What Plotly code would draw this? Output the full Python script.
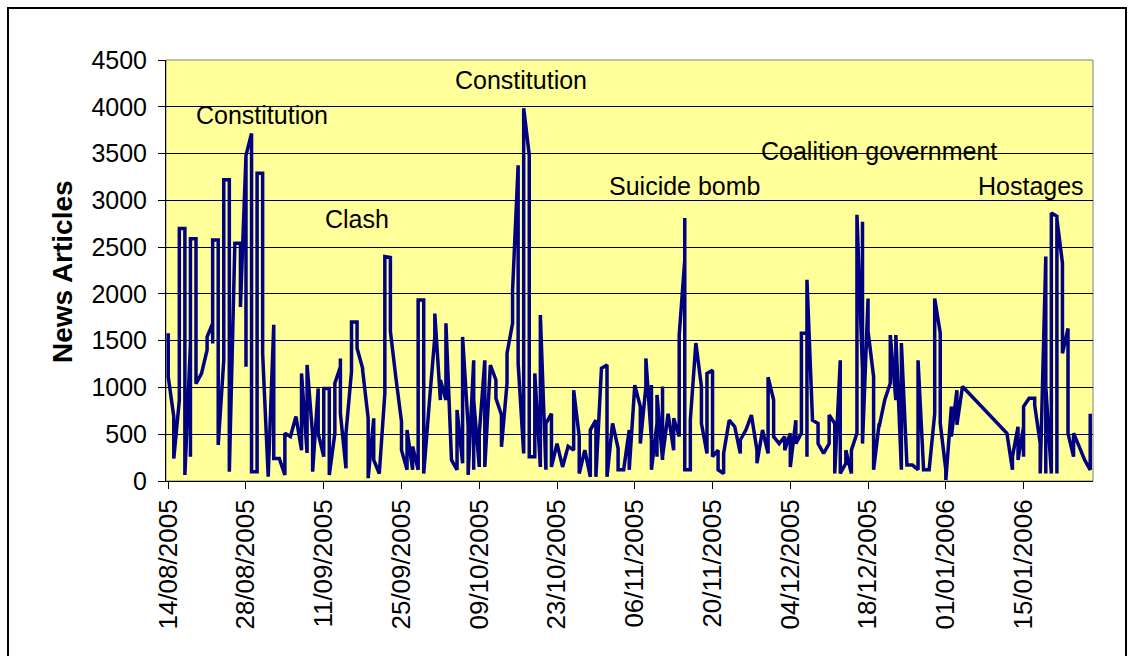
import datetime as dt
import plotly.graph_objects as go

# ---------------- data ----------------
start_date = "2005-08-14"
# news article counts per day (several readings per date); [] = no data that day
counts = [
    [1580, 1550, 1115], [690, 240], [865, 2700], [2700, 1790, 940, 65],
    [1470, 260, 2590], [2590, 2040, 1540, 1040], [1150], [1400, 1540],
    [1685, 1470, 2575], [2575, 385], [1290, 2180, 3220], [3220, 1330, 2170, 100],
    [2540], [2540, 2220, 1860], [3480, 1220, 3480], [3715, 100],
    [100, 3290], [3290, 2630, 1365], [45], [1670, 240],
    [240], [65, 510], [475], [690],
    [330, 1150], [300, 1240], [490, 100], [990, 510],
    [260, 990], [990, 65], [510, 1045], [1220, 1310, 723],
    [135, 510], [1170, 1700], [1700, 1420], [1205, 1185],
    [670, 30], [670, 225], [80], [937, 2400],
    [2390, 1845, 1600], [1100], [635, 545, 330], [120, 545],
    [120, 370], [120, 1935], [1935, 935, 80], [830],
    [1540, 1790], [865, 1080], [865, 1685], [225],
    [120, 760], [190, 1540], [580, 65], [1290, 120, 865],
    [150, 500], [1290, 150], [1240], [1080, 885],
    [705, 365], [1045, 1365], [1685, 2040], [3375, 2700, 2080, 1260],
    [295, 3985], [3485, 2100, 260], [260, 1150], [150, 1775],
    [120, 615], [720, 150], [400], [150],
    [370], [330, 970], [475, 80], [330],
    [45, 545], [650, 45], [1205], [1240, 45],
    [615], [350, 120], [120], [545, 510, 120],
    [1025], [795, 400], [1010, 1310], [440, 1025, 955, 120],
    [615, 260, 920], [225, 1010, 260], [720], [330, 670],
    [475, 720, 1130, 1560], [2360, 2810, 120], [120, 650], [1475],
    [1010, 615], [295, 1150], [1185, 260], [330, 120],
    [80, 295], [650], [580], [295, 440],
    [545], [705], [330, 190], [545],
    [295, 1110], [865, 475], [400], [475, 330],
    [510, 150], [650, 400], [510, 1580], [1580, 260, 2150],
    [650], [615, 400], [295], [400, 705],
    [615, 80], [1290, 80], [190, 330], [80, 330],
    [510, 2845], [1185, 2770, 400], [1950, 1600], [1115, 615, 120],
    [615, 580], [865], [1045, 1560], [865, 1560],
    [120, 1475], [170], [170], [120, 795, 1290],
    [120], [120], [720, 1950], [1580, 1080, 615],
    [120, 10], [795, 475], [970, 600], [1010],
    [], [], [], [760],
    [], [], [], [510],
    [120, 260], [580, 225], [580, 260, 795], [885],
    [885, 810], [400, 80], [2400, 80, 1010], [80, 2865],
    [2830, 80, 2800], [2330, 1850, 1365], [1630, 510], [260, 510],
    [370], [225], [120, 260, 720],
]

tick_dates = ["2005-08-14", "2005-08-28", "2005-09-11", "2005-09-25", "2005-10-09",
              "2005-10-23", "2005-11-06", "2005-11-20", "2005-12-04", "2005-12-18",
              "2006-01-01", "2006-01-15"]
tick_labels = ["14/08/2005", "28/08/2005", "11/09/2005", "25/09/2005", "09/10/2005",
               "23/10/2005", "06/11/2005", "20/11/2005", "04/12/2005", "18/12/2005",
               "01/01/2006", "15/01/2006"]

events = ["Constitution", "Clash", "Constitution", "Suicide bomb",
          "Coalition government", "Hostages"]
event_dates = ["2005-08-30 22:00", "2005-09-16 22:00", "2005-10-16 12:00",
               "2005-11-14 22:00", "2005-12-19 22:00", "2006-01-16 08:00"]
event_levels = [3913, 2801, 4287, 3154, 3528, 3154]

# ---------------- build series ----------------
d0 = dt.datetime.strptime(start_date, "%Y-%m-%d")
xs, ys = [], []
for i, vals in enumerate(counts):
    day = d0 + dt.timedelta(days=i)
    for v in vals:
        xs.append(day)
        ys.append(v)

FONT = "Arial, Liberation Sans, sans-serif"

fig = go.Figure()
fig.add_trace(go.Scatter(x=xs, y=ys, mode="lines",
                         line=dict(color="#000080", width=3.5), hoverinfo="skip",
                         showlegend=False))

for t, xd, yv in zip(events, event_dates, event_levels):
    fig.add_annotation(x=xd, y=yv, xref="x", yref="y", text=t, showarrow=False,
                       font=dict(family=FONT, size=25, color="black"),
                       xanchor="center", yanchor="middle")

# y title
fig.add_annotation(x=(62 - 166) / 927, y=(481 - 272) / 421, xref="paper", yref="paper",
                   text="<b>News Articles</b>", showarrow=False, textangle=-90,
                   font=dict(family=FONT, size=28, color="black"),
                   xanchor="center", yanchor="middle")

# plot area border (grey)
fig.add_shape(type="rect", xref="paper", yref="paper", x0=0, x1=1, y0=0, y1=1,
              line=dict(color="#808080", width=1), layer="below")
# chart area border
bx0, bx1 = (8 - 166) / 927, (1126 - 166) / 927
by1, by0 = (481 - 8) / 421, (481 - 660) / 421
fig.add_shape(type="rect", xref="paper", yref="paper", x0=bx0, x1=bx1, y0=by0, y1=by1,
              line=dict(color="black", width=2))

start_rng = d0 - dt.timedelta(hours=9.6)
end_rng = d0 + dt.timedelta(days=166.5)

fig.update_layout(
    width=1135, height=656,
    margin=dict(l=166, r=42, t=60, b=175),
    paper_bgcolor="white", plot_bgcolor="#FFFF99",
    hovermode=False,
    font=dict(family=FONT, size=25, color="black"),
    xaxis=dict(type="date", range=[start_rng, end_rng],
               tickmode="array", tickvals=tick_dates, ticktext=tick_labels,
               tickangle=-90, ticks="outside", ticklen=7, tickcolor="black",
               showline=True, linecolor="black", linewidth=1,
               showgrid=False, zeroline=False,
               tickfont=dict(family=FONT, size=26, color="black")),
    yaxis=dict(range=[0, 4500], tickmode="linear", tick0=0, dtick=500,
               ticks="outside", ticklen=7, tickcolor="black",
               showline=True, linecolor="black", linewidth=1,
               showgrid=True, gridcolor="black", gridwidth=1, zeroline=False,
               ticklabelstandoff=6,
               tickfont=dict(family=FONT, size=25, color="black")),
)

fig.write_html("out.html", config={"displayModeBar": False, "staticPlot": True},
               post_script="document.body.style.margin='0px';document.body.style.overflow='hidden';")
